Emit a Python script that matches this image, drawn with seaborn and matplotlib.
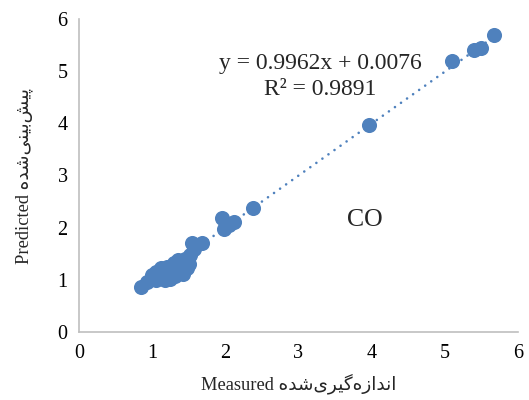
import matplotlib
matplotlib.use("Agg")
import matplotlib.pyplot as plt
import seaborn as sns
import numpy as np
import pandas as pd

# Measured vs predicted CO concentrations
measured = [0.85, 0.93, 0.98, 1.00, 1.05, 1.05, 1.10, 1.12, 1.15, 1.18,
            1.20, 1.22, 1.25, 1.28, 1.30, 1.32, 1.35, 1.38, 1.40, 1.42,
            1.45, 1.48, 1.50, 1.52, 1.55, 1.58, 1.68, 1.95, 1.98, 2.05,
            2.12, 2.38, 3.97, 5.10, 5.40, 5.50, 5.67]
predicted = [0.86, 0.95, 1.02, 1.10, 1.15, 1.00, 1.05, 1.22, 1.12, 1.00,
             1.25, 1.10, 1.02, 1.20, 1.32, 1.08, 1.38, 1.15, 1.28, 1.12,
             1.40, 1.22, 1.30, 1.48, 1.70, 1.60, 1.70, 2.18, 1.98, 2.05,
             2.10, 2.38, 3.97, 5.20, 5.40, 5.45, 5.70]

# Linear trendline fitted to the series
slope = 0.9962
intercept = 0.0076
r_squared = 0.9891

x_ticks = [0, 1, 2, 3, 4, 5, 6]
y_ticks = [0, 1, 2, 3, 4, 5, 6]

# Persian labels written in presentation forms, visual (left-to-right) order
fa_predicted = "\uFEE9\uFEAA\uFEB7\uFBFD\uFEE8\uFBFF\uFE91\uFEB6\uFBFF\uFB58"
fa_measured = "\uFEE9\uFEAA\uFEB7\uFBFC\uFEAE\uFBFF\uFB94\uFEE9\uFEAF\uFE8D\uFEAA\uFEE7\uFE8D"

df = pd.DataFrame({"Measured": measured, "Predicted": predicted})

sns.set_theme(style="white")
plt.rcParams["font.family"] = ["Liberation Serif", "DejaVu Sans"]

blue = "#4F81BD"
fig = plt.figure(figsize=(5.29, 4.0), dpi=100)
ax = fig.add_axes([0.149, 0.17, 0.830, 0.7825])

sns.scatterplot(data=df, x="Measured", y="Predicted", ax=ax, color=blue,
                s=118, linewidth=0, alpha=1.0, zorder=2)

xs = np.array([min(measured), max(measured)])
ax.plot(xs, slope * xs + intercept, color=blue, lw=1.9,
        linestyle=(0, (0.01, 2.8)), dash_capstyle="round", zorder=3)

ax.set_xlim(0, 6)
ax.set_ylim(0, 6)
ax.set_xticks(x_ticks)
ax.set_yticks(y_ticks)
ax.tick_params(axis="both", length=0, labelsize=14.5, colors="black")
ax.tick_params(axis="x", pad=9)
ax.tick_params(axis="y", pad=8)

for side in ["top", "right"]:
    ax.spines[side].set_visible(False)
for side in ["left", "bottom"]:
    ax.spines[side].set_color("#BFBFBF")
    ax.spines[side].set_linewidth(1.2)

ax.set_xlabel("Measured " + fa_measured, fontsize=13.3, labelpad=7)
ax.set_ylabel("Predicted " + fa_predicted, fontsize=13.3, labelpad=18)

ax.text(3.30, 5.14, f"y = {slope:.4f}x + {intercept:.4f}", fontsize=17,
        ha="center", va="center")
ax.text(3.30, 4.64, f"R\u00b2 = {r_squared:.4f}", fontsize=17,
        ha="center", va="center")
ax.text(3.91, 2.15, "CO", fontsize=18.5, ha="center", va="center")

fig.savefig("out.png", dpi=100)
